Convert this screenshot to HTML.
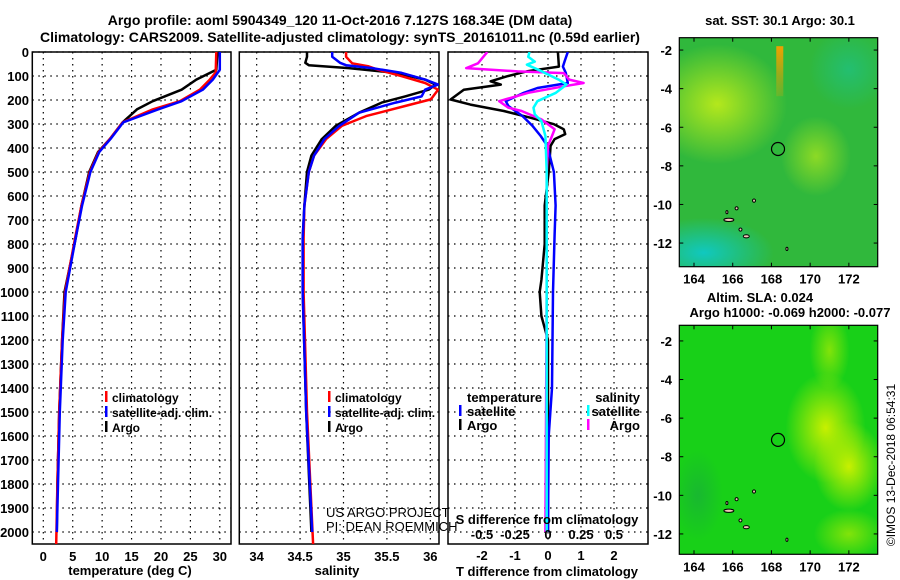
<!DOCTYPE html>
<html><head><meta charset="utf-8"><style>
body{margin:0;background:#fff;}
svg{display:block;font-family:"Liberation Sans",sans-serif;}
.t{font-weight:bold;font-size:13px;fill:#000;}
.h{font-weight:bold;font-size:14px;fill:#000;}
</style></head><body>
<svg id="c" width="900" height="580" viewBox="0 0 900 580">
<defs>
<radialGradient id="g1"><stop offset="0" stop-color="#b4e81c"/><stop offset="1" stop-color="#b4e81c" stop-opacity="0"/></radialGradient>
<radialGradient id="g2"><stop offset="0" stop-color="#10c8c0"/><stop offset="1" stop-color="#10c8c0" stop-opacity="0"/></radialGradient>
<radialGradient id="g3"><stop offset="0" stop-color="#c8f000"/><stop offset="1" stop-color="#c8f000" stop-opacity="0"/></radialGradient>
<radialGradient id="g4"><stop offset="0" stop-color="#18b830"/><stop offset="1" stop-color="#18b830" stop-opacity="0"/></radialGradient>
<linearGradient id="g5" x1="0" y1="0" x2="0" y2="1"><stop offset="0" stop-color="#f0a000"/><stop offset="1" stop-color="#f0a000" stop-opacity="0.2"/></linearGradient>
</defs>
<text class="h" x="340" y="25" text-anchor="middle">Argo profile: aoml 5904349_120 11-Oct-2016 7.127S 168.34E (DM data)</text>
<text class="h" x="340" y="42" text-anchor="middle">Climatology: CARS2009. Satellite-adjusted climatology: synTS_20161011.nc (0.59d earlier)</text>
<g id="plots"></g>
</svg>
<script>
// ---- data (depth in m) ----
const tDepthClim=[0,85,115,157,205,239,293,363,417,500,639,775,1000,1200,1500,1800,2050];
const tClim=[29.4,29.3,28.3,26.6,23.2,18.6,13.5,11.3,9.4,7.9,6.5,5.4,3.7,3.2,2.7,2.4,2.2];
const tSat=[30.0,30.0,28.8,27.1,23.5,19.5,13.6,11.4,9.5,8.0,6.6,5.5,3.8,3.3,2.8,2.5,2.3];
const tDepthArgo=[0,74,115,157,205,239,293,363,417,500,639,775,1000,1200,1500,1800,2000];
const tArgo=[29.6,29.4,26.0,23.5,18.6,15.9,13.5,11.3,9.3,7.8,6.5,5.5,3.6,3.2,2.7,2.4,2.3];
const sDepth=[0,20,47,60,74,101,129,157,191,198,225,267,308,363,432,500,639,775,1000,1500,2050];
const sClim=[35.03,35.03,35.1,35.29,35.4,35.67,35.94,36.09,36.02,36.0,35.71,35.26,34.98,34.8,34.66,34.6,34.55,34.54,34.54,34.58,34.65];
const sSat=[34.87,34.87,34.96,35.03,35.33,35.67,35.94,36.09,35.94,35.9,35.6,35.18,34.95,34.78,34.66,34.6,34.55,34.53,34.53,34.57,34.64];
const sArgoDepth=[0,20,45,55,67,87,115,136,157,185,211,253,308,363,432,500,639,775,1000,1500,2000];
const sArgo=[34.58,34.58,34.56,34.6,35.06,35.6,35.94,36.06,35.98,35.71,35.44,35.18,34.91,34.75,34.63,34.58,34.55,34.53,34.53,34.57,34.63];
const dTDepth=[0,61,80,101,122,136,157,198,219,246,274,301,322,342,363,391,500,639,800,950,1000,1100,1200,1500,2000];
const dTArgo=[0.3,0.33,-0.62,-1.23,-1.74,-1.43,-2.55,-2.95,-2.35,-1.34,-0.52,0.18,0.48,0.52,0.2,0.08,0.02,-0.1,-0.1,-0.2,-0.25,-0.2,0,0,0];
const dTSatDepth=[0,40,61,87,129,150,170,205,225,267,308,350,391,500,639,762,1000,1400,1600,2000];
const dTSat=[0.6,0.5,0.45,0.54,0.6,-0.32,-0.73,-1.28,-1.2,-0.77,-0.47,-0.22,-0.02,0.18,0.23,0.2,0.15,0.12,0.02,0.0];
const dSDepth=[0,47,67,81,88,115,129,143,170,205,232,246,281,301,322,350,391,500,1000,2000];
const dSArgo=[-0.46,-0.53,-0.62,-0.23,0.12,0.16,0.27,0.12,-0.15,-0.37,-0.3,-0.2,-0.05,0.0,0.05,0.03,0.0,-0.01,-0.01,-0.02];
const dSSatDepth=[0,20,40,53,80,115,136,170,205,232,260,288,350,500,1000,2000];
const dSSat=[-0.14,-0.15,-0.1,-0.16,-0.05,0.08,0.14,0.06,-0.08,-0.11,-0.1,-0.05,-0.02,-0.01,-0.01,-0.01];
const depthTicks=[0,100,200,300,400,500,600,700,800,900,1000,1100,1200,1300,1400,1500,1600,1700,1800,1900,2000];
const tTicks=[0,5,10,15,20,25,30];
const sTicks=[34,34.5,35,35.5,36];
const sTickLabels=["34","34.5","35","35.5","36"];
const dTTicks=[-2,-1,0,1,2];
const dSTicks=[-0.5,-0.25,0,0.25,0.5];
const dSTickLabels=["-0.5","-0.25","0","0.25","0.5"];
const lonTicks=[164,166,168,170,172];
const latTicks=[-2,-4,-6,-8,-10,-12];
const floatLon=168.34, floatLat=-7.127;

const NS='http://www.w3.org/2000/svg';
const root=document.getElementById('plots');
function el(tag,attrs,parent){const e=document.createElementNS(NS,tag);for(const k in attrs)e.setAttribute(k,attrs[k]);(parent||root).appendChild(e);return e;}
const PTOP=52, PBOT=544;
const yD=d=>PTOP+d*0.24;
function panel(x0,x1,xmin,xmax,name){
  const sx=v=>x0+(v-xmin)/(xmax-xmin)*(x1-x0);
  const g=el('g',{});
  
  
  return {sx,g,x0,x1};
}
function frame(p,xt){
  xt.forEach(v=>{const x=p.sx(v);el('line',{x1:x,y1:PTOP,x2:x,y2:PBOT,stroke:'#000','stroke-dasharray':'1.5,4.5','stroke-width':1.2},p.g);});
  depthTicks.forEach(d=>{const y=yD(d);el('line',{x1:p.x0,y1:y,x2:p.x1,y2:y,stroke:'#000','stroke-dasharray':'1.5,4.5','stroke-width':1.2},p.g);});
  el('rect',{x:p.x0,y:PTOP,width:p.x1-p.x0,height:PBOT-PTOP,fill:'none',stroke:'#000','stroke-width':1.5},p.g);
}
function line(p,xs,ds,color,name,w){
  const pts=xs.map((v,i)=>p.sx(v).toFixed(1)+','+yD(ds[i]).toFixed(1)).join(' ');
  const l=el('polyline',{points:pts,fill:'none',stroke:color,'stroke-width':w||2.5,'stroke-linejoin':'round'},p.g);
  
  
}
function txt(x,y,s,cls,anchor,parent){const t=el('text',{x:x,y:y,class:cls||'t','text-anchor':anchor||'start'},parent);t.textContent=s;return t;}
// panel 1
const p1=panel(32.3,231,-1.87,31.9,'temperature-panel');
frame(p1,tTicks);
line(p1,tArgo,tDepthArgo,'#000','argo-temperature-line');
line(p1,tClim,tDepthClim,'#f00','climatology-temperature-line');
line(p1,tSat,tDepthArgo,'#00f','satellite-temperature-line');
tTicks.forEach(v=>txt(p1.sx(v),561,String(v),'t','middle',p1.g));
depthTicks.forEach(d=>txt(29,yD(d)+5,String(d),'t','end',p1.g));
txt(130,575,'temperature (deg C)','t','middle',p1.g);
[['climatology','#f00'],['satellite-adj. clim.','#00f'],['Argo','#000']].forEach((e,i)=>{
  const y=402+i*15;el('rect',{x:105,y:y-11,width:2.5,height:11,fill:e[1]},p1.g);
  const t=txt(112,y,e[0],'t','start',p1.g);t.setAttribute('style','font-size:12px');
});
// panel 2
const p2=panel(239.3,439,33.8,36.1,'salinity-panel');
frame(p2,sTicks);
const c2=el('clipPath',{id:'cl2'},p2.g);el('rect',{x:239.3,y:PTOP,width:199.7,height:PBOT-PTOP},c2);
const g2c=el('g',{'clip-path':'url(#cl2)'},p2.g);
const p2c={sx:p2.sx,g:g2c};
line(p2c,sArgo,sArgoDepth,'#000','argo-salinity-line');
line(p2c,sClim,sDepth,'#f00','climatology-salinity-line');
line(p2c,sSat,sArgoDepth,'#00f','satellite-salinity-line');
sTicks.forEach((v,i)=>txt(p2.sx(v),561,sTickLabels[i],'t','middle',p2.g));
txt(337,575,'salinity','t','middle',p2.g);
[['climatology','#f00'],['satellite-adj. clim.','#00f'],['Argo','#000']].forEach((e,i)=>{
  const y=402+i*15;el('rect',{x:328,y:y-11,width:2.5,height:11,fill:e[1]},p2.g);
  const t=txt(335,y,e[0],'t','start',p2.g);t.setAttribute('style','font-size:12px');
});
let u=txt(326,517,'US ARGO PROJECT','t','start',p2.g);u.setAttribute('style','font-weight:normal;font-size:13px');
u=txt(326,531,'PI: DEAN ROEMMICH','t','start',p2.g);u.setAttribute('style','font-weight:normal;font-size:13px');
// panel 3
const p3=panel(448,648,-3.03,3.03,'difference-panel');
frame(p3,dTTicks);
const c3=el('clipPath',{id:'cl3'},p3.g);el('rect',{x:448,y:PTOP,width:200,height:PBOT-PTOP},c3);
const g3c=el('g',{'clip-path':'url(#cl3)'},p3.g);
const p3c={sx:p3.sx,g:g3c};
line(p3c,dTArgo,dTDepth,'#000','argo-temp-diff-line');
line(p3c,dTSat,dTSatDepth,'#00f','sat-temp-diff-line');
line(p3c,dSArgo.map(v=>v*4),dSDepth,'#f0f','argo-sal-diff-line');
line(p3c,dSSat.map(v=>v*4),dSSatDepth,'#0ff','sat-sal-diff-line');
dTTicks.forEach(v=>txt(p3.sx(v),560,String(v),'t','middle',p3.g));
dSTicks.forEach((v,i)=>txt(p3.sx(v*4),539,dSTickLabels[i],'t','middle',p3.g));
txt(547,524,'S difference from climatology','t','middle',p3.g);
txt(547,576,'T difference from climatology','t','middle',p3.g);
txt(467,402,'temperature','t','start',p3.g);
txt(640,402,'salinity','t','end',p3.g);
[['satellite','#00f','#0ff'],['Argo','#000','#f0f']].forEach((e,i)=>{
  const y=416+i*14;
  el('rect',{x:459,y:y-11,width:2.5,height:11,fill:e[1]},p3.g);
  txt(467,y,e[0],'t','start',p3.g);
  el('rect',{x:587,y:y-11,width:2.5,height:11,fill:e[2]},p3.g);
  txt(640,y,e[0],'t','end',p3.g);
});
// maps
function map(yTop,latTopVal,name,draw){
  const x0=679.3,x1=877.7,h=229;
  const lonMin=163.24,lonMax=173.49;
  const sx=v=>x0+(v-lonMin)/(lonMax-lonMin)*(x1-x0);
  const sy=v=>yTop+(latTopVal-v)*19.3;
  const g=el('g',{});
  
  
  const cid='m'+Math.round(yTop);
  const c=el('clipPath',{id:cid},g);el('rect',{x:x0,y:yTop,width:x1-x0,height:h},c);
  const gi=el('g',{'clip-path':'url(#'+cid+')'},g);
  draw(gi,sx,sy,x0,yTop,x1-x0,h);
  el('rect',{x:x0,y:yTop,width:x1-x0,height:h,fill:'none',stroke:'#000','stroke-width':1.2},g);
  lonTicks.forEach(v=>{el('line',{x1:sx(v),y1:yTop,x2:sx(v),y2:yTop+4,stroke:'#000'},g);el('line',{x1:sx(v),y1:yTop+h,x2:sx(v),y2:yTop+h-4,stroke:'#000'},g);txt(sx(v),yTop+h+17,String(v),'t','middle',g);});
  latTicks.forEach(v=>{el('line',{x1:x0,y1:sy(v),x2:x0+4,y2:sy(v),stroke:'#000'},g);el('line',{x1:x1,y1:sy(v),x2:x1-4,y2:sy(v),stroke:'#000'},g);txt(672,sy(v)+5,String(v),'t','end',g);});
  [[165.8,-10.8,5],[166.7,-11.65,3],[166.4,-11.3,1.5],[166.2,-10.2,1.5],[167.1,-9.8,1.5],[165.7,-10.4,1],[168.8,-12.3,1]].forEach(p=>el('ellipse',{cx:sx(p[0]),cy:sy(p[1]),rx:p[2],ry:1.6,fill:'#f0c8b8',stroke:'#000','stroke-width':1},g));
  const fc=el('circle',{cx:sx(floatLon),cy:sy(floatLat),r:6.5,fill:'none',stroke:'#000','stroke-width':1.2},g);
  
  
}
map(37.7,-1.36,'sst-map',(g,sx,sy,x,y,w,h)=>{
  el('rect',{x:x,y:y,width:w,height:h,fill:'#30b83c'},g);
  el('ellipse',{cx:sx(165.2),cy:sy(-4.8),rx:70,ry:60,fill:'url(#g1)'},g);
  el('ellipse',{cx:sx(170.3),cy:sy(-7.5),rx:35,ry:40,fill:'url(#g1)',opacity:0.7},g);
  el('ellipse',{cx:sx(164.5),cy:sy(-12.5),rx:70,ry:35,fill:'url(#g2)'},g);
  el('ellipse',{cx:sx(172),cy:sy(-3),rx:40,ry:40,fill:'url(#g2)',opacity:0.4},g);
  el('rect',{x:sx(168.25),y:sy(-1.8),width:7,height:50,fill:'url(#g5)'},g);
});
map(325.3,-1.19,'sla-map',(g,sx,sy,x,y,w,h)=>{
  el('rect',{x:x,y:y,width:w,height:h,fill:'#18d018'},g);
  el('ellipse',{cx:sx(170.8),cy:sy(-6.5),rx:40,ry:55,fill:'url(#g3)'},g);
  el('ellipse',{cx:sx(172),cy:sy(-8.5),rx:35,ry:45,fill:'url(#g3)'},g);
  el('ellipse',{cx:sx(171),cy:sy(-2.5),rx:20,ry:40,fill:'url(#g3)',opacity:0.6},g);
  el('ellipse',{cx:sx(172),cy:sy(-12),rx:35,ry:25,fill:'url(#g3)',opacity:0.6},g);
  el('ellipse',{cx:sx(164.2),cy:sy(-10),rx:25,ry:45,fill:'url(#g4)'},g);
});
txt(780,25,'sat. SST: 30.1 Argo: 30.1','t','middle');
txt(760,302,'Altim. SLA: 0.024','t','middle');
txt(790,317,'Argo h1000: -0.069 h2000: -0.077','t','middle');
const cr=txt(0,0,'©IMOS 13-Dec-2018 06:54:31','t','middle');
cr.setAttribute('transform','translate(895,465) rotate(-90)');
cr.setAttribute('style','font-weight:normal;font-size:12px');


</script>
</body></html>
